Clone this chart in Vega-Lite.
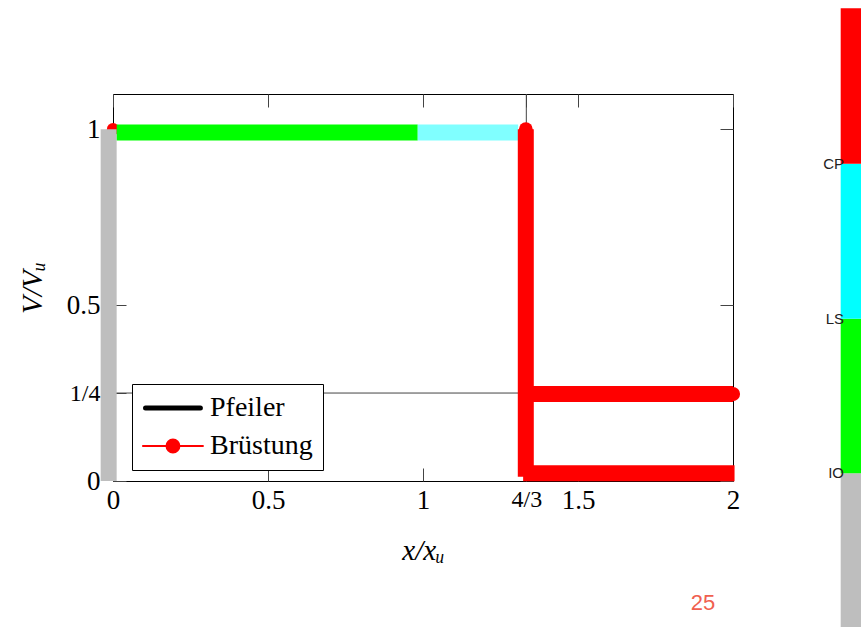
{
  "$schema": "https://vega.github.io/schema/vega-lite/v6.json",
  "autosize": {"type": "none"},
  "padding": {"left": 113, "top": 94, "right": 128, "bottom": 146},
  "width": 620,
  "height": 387,
  "background": "white",
  "config": {
    "view": {"stroke": "black", "strokeWidth": 1},
    "axis": {
      "domain": false,
      "grid": false,
      "tickColor": "#444",
      "tickWidth": 1,
      "tickSize": -13,
      "labelFont": "Liberation Serif",
      "labelFontSize": 27,
      "labelColor": "black",
      "titleFont": "Liberation Serif",
      "titleFontSize": 29,
      "titleFontStyle": "italic",
      "titleFontWeight": "normal",
      "titleColor": "black"
    }
  },
  "datasets": {
    "guides": [
      {"x": 0, "x2": 1.3333, "y": 0.25, "y2": 0.25},
      {"x": 1.3333, "x2": 1.3333, "y": 0, "y2": 1.1}
    ],
    "lines": [
      {"seg": "grau", "c": "grau", "serie": "Pfeiler", "o": 1, "x": -0.014, "y": 0},
      {"seg": "grau", "c": "grau", "serie": "Pfeiler", "o": 2, "x": -0.014, "y": 1.0},
      {"seg": "gruen", "c": "gruen", "serie": "Pfeiler", "o": 1, "x": 0.012, "y": 0.9907},
      {"seg": "gruen", "c": "gruen", "serie": "Pfeiler", "o": 2, "x": 0.983, "y": 0.9907},
      {"seg": "cyan", "c": "hellcyan", "serie": "Pfeiler", "o": 1, "x": 0.983, "y": 0.9907},
      {"seg": "cyan", "c": "hellcyan", "serie": "Pfeiler", "o": 2, "x": 1.307, "y": 0.9907},
      {"seg": "rot1", "c": "rot", "serie": "Brüstung", "o": 1, "x": 1.3316, "y": 1.0},
      {"seg": "rot1", "c": "rot", "serie": "Brüstung", "o": 2, "x": 1.3316, "y": 0.012},
      {"seg": "rot2", "c": "rot", "serie": "Brüstung", "o": 1, "x": 1.3333, "y": 0.247},
      {"seg": "rot2", "c": "rot", "serie": "Brüstung", "o": 2, "x": 2.0, "y": 0.247},
      {"seg": "rot3", "c": "rot", "serie": "Brüstung", "o": 1, "x": 1.323, "y": 0.0218},
      {"seg": "rot3", "c": "rot", "serie": "Brüstung", "o": 2, "x": 2.005, "y": 0.0218}
    ],
    "dots": [
      {"x": 0, "y": 1.0, "s": 150},
      {"x": 1.3316, "y": 1.0, "s": 190},
      {"x": 2.0, "y": 0.247, "s": 200}
    ],
    "bar": [
      {"c": "grau", "x": 2.3474, "x2": 2.46, "y": -0.45, "y2": 0.0218},
      {"c": "gruen", "x": 2.3474, "x2": 2.46, "y": 0.0218, "y2": 0.4609},
      {"c": "cyan", "x": 2.3474, "x2": 2.46, "y": 0.4609, "y2": 0.9017},
      {"c": "rot", "x": 2.3474, "x2": 2.46, "y": 0.9017, "y2": 1.3437}
    ],
    "barlabels": [
      {"t": "IO", "x": 2.3581, "y": 0.0218},
      {"t": "LS", "x": 2.3581, "y": 0.4609},
      {"t": "CP", "x": 2.3581, "y": 0.9017}
    ],
    "page": [
      {"t": "25", "x": 1.903, "y": -0.3456}
    ]
  },
  "resolve": {"axis": {"x": "independent", "y": "independent"}},
  "layer": [
    {
      "data": {"name": "guides"},
      "mark": {"type": "rule", "color": "#444", "strokeWidth": 1},
      "encoding": {
        "x": {
          "field": "x", "type": "quantitative",
          "scale": {"domain": [0, 2], "nice": false, "zero": false},
          "axis": {
            "orient": "bottom",
            "title": "x/xᵤ",
            "values": [0, 0.5, 1, 1.3333333, 1.5, 2],
            "format": "~g",
            "labelExpr": "abs(datum.value-1.3333)<0.01 ? '4/3' : datum.label",
            "labelFontSize": {"condition": {"test": "abs(datum.value-1.3333)<0.01", "value": 24}, "value": 27},
            "labelPadding": 19,
            "labelFlush": false,
            "labelOverlap": false,
            "titlePadding": 23
          }
        },
        "x2": {"field": "x2"},
        "y": {
          "field": "y", "type": "quantitative",
          "scale": {"domain": [0, 1.1], "nice": false, "zero": false},
          "axis": {
            "orient": "left",
            "title": "V/Vᵤ",
            "values": [0, 0.25, 0.5, 1],
            "format": "~g",
            "labelExpr": "datum.value == 0.25 ? '1/4' : datum.label",
            "labelFontSize": {"condition": {"test": "datum.value == 0.25", "value": 24}, "value": 27},
            "labelPadding": 26,
            "labelFlush": false,
            "labelOverlap": false,
            "titlePadding": 19
          }
        },
        "y2": {"field": "y2"}
      }
    },
    {
      "data": {"name": "dots"},
      "mark": {"type": "point", "filled": true, "color": "#ff0000", "opacity": 1, "shape": "circle"},
      "encoding": {
        "x": {
          "field": "x", "type": "quantitative",
          "axis": {"orient": "top", "title": null, "labels": false, "values": [0, 0.5, 1, 1.3333333, 1.5, 2]}
        },
        "y": {
          "field": "y", "type": "quantitative",
          "axis": {"orient": "right", "title": null, "labels": false, "values": [0, 0.25, 0.5, 1]}
        },
        "size": {"field": "s", "type": "quantitative", "scale": null}
      }
    },
    {
      "data": {"name": "lines"},
      "mark": {"type": "line", "strokeWidth": 16, "strokeCap": "butt"},
      "encoding": {
        "x": {"field": "x", "type": "quantitative", "axis": null},
        "y": {"field": "y", "type": "quantitative", "axis": null},
        "detail": {"field": "seg"},
        "order": {"field": "o", "type": "quantitative"},
        "color": {
          "field": "c", "type": "nominal",
          "scale": {"domain": ["grau", "gruen", "hellcyan", "cyan", "rot"], "range": ["#bebebe", "#00ff00", "#80ffff", "#00ffff", "#ff0000"]},
          "legend": null
        },
        "opacity": {
          "field": "serie", "type": "ordinal",
          "scale": {"domain": ["Pfeiler", "Brüstung"], "range": [1, 1]},
          "legend": {
            "title": null,
            "orient": "none",
            "legendX": 19,
            "legendY": 290,
            "direction": "vertical",
            "strokeColor": "black",
            "fillColor": "white",
            "padding": 10,
            "labelFont": "Liberation Serif",
            "labelFontSize": 28,
            "labelColor": "black",
            "labelOffset": 40,
            "symbolSize": 900,
            "rowPadding": 10,
            "encode": {
              "symbols": {
                "update": {
                  "shape": {"signal": "datum.value === 'Pfeiler' ? 'M-0.7,0H2.96' : 'M-0.87,0H3.13M1.56,0A0.43,0.43,0,1,1,0.7,0A0.43,0.43,0,1,1,1.56,0'"},
                  "stroke": {"signal": "datum.value === 'Pfeiler' ? 'black' : '#ff0000'"},
                  "fill": {"signal": "datum.value === 'Pfeiler' ? 'transparent' : '#ff0000'"},
                  "strokeWidth": {"signal": "datum.value === 'Pfeiler' ? 5 : 2"},
                  "strokeCap": {"value": "round"},
                  "opacity": {"value": 1},
                  "fillOpacity": {"value": 1},
                  "strokeOpacity": {"value": 1}
                }
              }
            }
          }
        }
      }
    },
    {
      "data": {"name": "bar"},
      "mark": {"type": "rect"},
      "encoding": {
        "x": {"field": "x", "type": "quantitative", "axis": null},
        "x2": {"field": "x2"},
        "y": {"field": "y", "type": "quantitative", "axis": null},
        "y2": {"field": "y2"},
        "color": {"field": "c", "type": "nominal", "legend": null}
      }
    },
    {
      "data": {"name": "barlabels"},
      "mark": {"type": "text", "align": "right", "baseline": "middle", "font": "Liberation Sans", "fontSize": 15, "color": "#222"},
      "encoding": {
        "x": {"field": "x", "type": "quantitative", "axis": null},
        "y": {"field": "y", "type": "quantitative", "axis": null},
        "text": {"field": "t"}
      }
    },
    {
      "data": {"name": "page"},
      "mark": {"type": "text", "align": "center", "baseline": "middle", "font": "Liberation Sans", "fontSize": 22, "color": "#f0604f"},
      "encoding": {
        "x": {"field": "x", "type": "quantitative", "axis": null},
        "y": {"field": "y", "type": "quantitative", "axis": null},
        "text": {"field": "t"}
      }
    }
  ]
}
